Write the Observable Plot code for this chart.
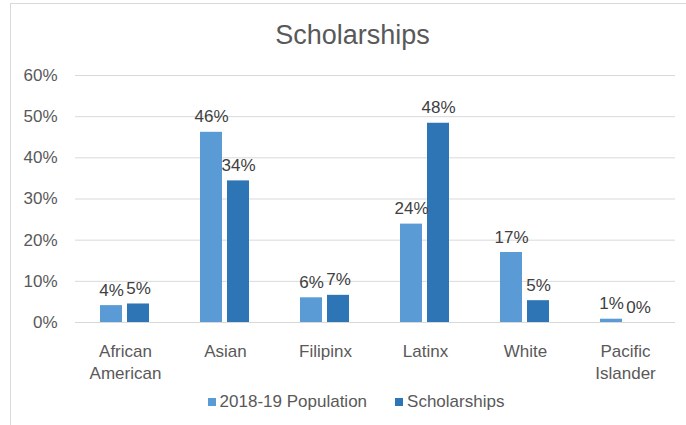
<!DOCTYPE html>
<html>
<head>
<meta charset="utf-8">
<script src="https://cdn.jsdelivr.net/npm/d3@7"></script>
<script src="https://cdn.jsdelivr.net/npm/@observablehq/plot@0.6"></script>
<style>
html, body { margin: 0; padding: 0; width: 686px; height: 425px; overflow: hidden; background: #fff; font-family: "Liberation Sans", Arial, sans-serif; }
#frame { position: absolute; left: 10px; top: 3px; width: 700px; height: 440px; border-left: 1px solid #d9d9d9; border-top: 1px solid #d9d9d9; }
#title { position: absolute; left: 0; top: 22px; width: 705px; text-align: center; font-size: 27px; line-height: 27px; color: #595959; }
#chart { position: absolute; left: 0; top: 57px; }
#legend { position: absolute; left: 0; top: 392px; width: 712px; height: 18px; }
#legend .lg-swatches { justify-content: center; margin: 0; min-height: 0; height: 18px; align-items: center; }
#legend .lg-swatch { margin-right: 0; }
#legend .lg-swatch + .lg-swatch { margin-left: 28px; }
#legend .lg-swatch > svg { margin-right: 4px; }
</style>
</head>
<body>
<div id="frame"></div>
<div id="title">Scholarships</div>
<div id="chart"></div>
<div id="legend"></div>
<script>
const categories = ["African American", "Asian", "Filipinx", "Latinx", "White", "Pacific Islander"];
const categoryLabels = ["African\nAmerican", "Asian", "Filipinx", "Latinx", "White", "Pacific\nIslander"];
const series = ["2018-19 Population", "Scholarships"];
const population = [4.1, 46.2, 6.0, 23.9, 17.0, 0.8];
const scholarships = [4.5, 34.4, 6.6, 48.4, 5.3, 0.0];
const yTicks = [0, 10, 20, 30, 40, 50, 60];
const colors = ["#5B9BD5", "#2E75B6"];

const rows = categories.flatMap((c, i) => [
  {category: c, series: series[0], value: population[i]},
  {category: c, series: series[1], value: scholarships[i]}
]);

const font = '"Liberation Sans", Arial, sans-serif';

const plot = Plot.plot({
  width: 686,
  height: 328,
  marginLeft: 73,
  marginRight: 9,
  marginTop: 18,
  marginBottom: 63,
  style: {fontFamily: font, fontSize: "17px", color: "#595959", background: "transparent", overflow: "visible"},
  fx: {domain: categories, padding: 0, label: null},
  x: {domain: series, paddingInner: 0.18, paddingOuter: 0.888, axis: null},
  y: {domain: [0, 60], label: null},
  color: {domain: series, range: colors},
  marks: [
    Plot.ruleY(yTicks, {stroke: "#d9d9d9", strokeWidth: 1}),
    Plot.axisY(yTicks, {tickSize: 0, tickPadding: 18, tickFormat: d => d + "%", fill: "#595959", fontSize: 17, label: null}),
    Plot.axisFx({anchor: "bottom", tickSize: 0, tickPadding: 19, tickFormat: d => categoryLabels[categories.indexOf(d)], lineHeight: 1.29, fontSize: 17, fill: "#595959", label: null}),
    Plot.barY(rows, {fx: "category", x: "series", y: "value", fill: "series"}),
    Plot.text(rows, {fx: "category", x: "series", y: "value", text: d => Math.round(d.value) + "%", lineAnchor: "bottom", dy: -10, fill: "#404040", fontSize: 17})
  ]
});
document.getElementById("chart").appendChild(plot);

const legend = plot.legend("color", {swatchSize: 8, className: "lg", style: {fontSize: "17px", fontFamily: font, color: "#595959"}});
document.getElementById("legend").appendChild(legend);
</script>
</body>
</html>
